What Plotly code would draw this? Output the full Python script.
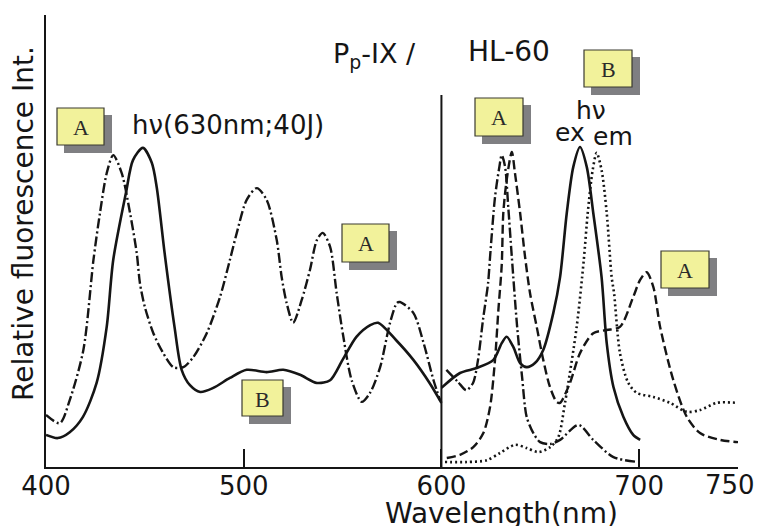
import plotly.graph_objects as go

# ---------------- data (relative fluorescence intensity, 0-100 scale) ----------------
# Excitation spectra (400-600 nm)
exc_solid_x = [400, 406, 412, 418.7, 425.6, 430.7, 434, 440.5, 444, 449, 453.5, 456, 460, 465,
               468.6, 472.8, 478, 484.6, 493, 501.5, 511.6, 520, 528.5, 537, 543.7, 550, 557,
               564, 568, 577, 585.8, 594, 600]
exc_solid_y = [7.1, 6.4, 7.7, 11.1, 18.6, 31.0, 45.8, 60.8, 67.9, 70.6, 67.3, 61.9, 47.3, 31.0,
               21.5, 18.1, 16.6, 17.5, 19.7, 21.5, 21.0, 21.5, 20.4, 18.6, 19.2, 23.7, 28.8,
               31.4, 31.9, 28.1, 23.7, 18.6, 14.2]

exc_dashdot_x = [400, 407, 412, 418.9, 424, 427.3, 430.7, 434, 438.3, 442.5, 445.9, 447.5, 450,
                 454.3, 459.3, 464.4, 469.5, 474.5, 481.3, 488, 493, 496.5, 501.5, 506.6, 511.6,
                 516.7, 519.2, 521.7, 525, 529.3, 533.5, 537, 540, 543.7, 547, 550.4, 554.6,
                 559.7, 563.9, 569, 574, 577.5, 579, 585.8, 591, 596, 599.3]
exc_dashdot_y = [11.5, 9.7, 14.8, 25.9, 45.8, 56.2, 65.0, 69.0, 65.0, 56.2, 47.3, 40.7, 35.4,
                 29.6, 25.2, 22.1, 22.1, 24.3, 29.6, 37.6, 45.8, 51.8, 59.1, 61.7, 59.1,
                 50.2, 42.0, 36.3, 31.9, 36.9, 43.6, 50.2, 51.8, 48.7, 38.5, 28.8, 19.2,
                 14.4, 16.4, 22.1, 31.9, 36.3, 36.5, 34.1, 27.4, 19.2, 14.8]

# Emission spectra (600-750 nm)
em_solid_x = [600, 609.4, 617.9, 626.3, 630.5, 633, 636.4, 639.8, 643.1, 647.3, 651.5, 656.6,
              660, 663.4, 666.7, 670.1, 673.5, 676.8, 681, 683.6, 687, 692, 697, 700.5]
em_solid_y = [17.5, 20.8, 21.9, 23.7, 27.4, 28.8, 26.5, 23.0, 22.1, 23.0, 25.9, 34.1,
              42.0, 56.2, 66.4, 70.8, 66.4, 56.2, 42.0, 27.4, 17.7, 11.1, 7.1, 6.0]

em_dashdot_x = [602.5, 608.4, 612.6, 616, 618.5, 621, 623.6, 624.6, 627.1, 629.3, 630.5, 632.2,
                633.8, 635.6, 638.3, 640.8, 643.1, 646.5, 649.9, 655, 660, 669.3, 676.8, 687,
                699.6]
em_dashdot_y = [21.5, 18.8, 17.0, 18.6, 23.7, 32.5, 40.7, 46.5, 59.7, 66.4, 69.0, 66.4,
                57.5, 46.5, 31.0, 19.9, 11.1, 7.5, 5.5, 5.1, 6.0, 9.3, 6.0, 2.2, 1.1]

em_dashed_x = [602.7, 609.4, 616.1, 621.2, 624.6, 627.1, 628.8, 630.5, 631.3, 633, 635.6, 637.2,
               639.8, 642.3, 644.8, 648.2, 651.5, 654.9, 658.3, 660, 665, 670.1, 676.8, 683.6,
               690.3, 697, 700.5, 703.8, 707.2, 710.6, 717.3, 724.1, 730.8, 740.9, 750]
em_dashed_y = [2.0, 2.7, 4.4, 7.5, 13.3, 23.7, 34.7, 44.7, 56.2, 63.5, 69.7, 65.0,
               56.2, 46.5, 38.5, 31.0, 23.7, 17.7, 14.4, 14.2, 18.6, 25.2, 29.6, 30.3,
               31.0, 37.6, 41.4, 43.1, 39.8, 31.0, 19.2, 11.1, 7.5, 6.0, 5.5]

em_dotted_x = [601.8, 612.8, 623, 629.6, 637.2, 643.1, 649, 655, 659.1, 662.5, 668.4, 672,
               674, 676.5, 678.5, 681, 683.6, 686.1, 687.3, 690.3, 694.5, 698.8, 707.2, 715.6,
               724.1, 730.8, 739.3, 749.4]
em_dotted_y = [1.1, 1.1, 1.5, 3.1, 4.9, 4.2, 3.3, 4.4, 6.6, 14.2, 31.0, 45.8,
               56.2, 65.7, 69.5, 65.7, 56.2, 42.0, 38.5, 25.2, 18.6, 16.4, 15.5, 14.2,
               12.2, 12.6, 14.2, 14.2]

tick_vals = [400, 500, 600, 700, 750]
tick_text = ["400", "500", "600", "700", "750"]

# ---------------- figure ----------------
W, H = 764, 526
PAGE_OFF = 8                      # default body margin of the html page
PL, PT, PW, PH = 46, 15, 692, 452  # plot area in page pixels
L, T = PL - PAGE_OFF, PT - PAGE_OFF
R = W - L - PW
B = H - T - PH


def px(x):
    return (x - PL) / PW


def py(y):
    return (PT + PH - y) / PH


INK = "#151515"
DASHDOT = "10px,3px,2px,3px"
DASHED = "9px,4px"
DOTTED = "2px,3px"

fig = go.Figure()


def add(x, y, dash, name, width=2.4):
    fig.add_trace(go.Scatter(x=x, y=y, mode="lines", name=name, showlegend=False,
                             line=dict(color=INK, width=width, dash=dash,
                                       shape="spline", smoothing=0.8),
                             hoverinfo="skip"))


add(exc_solid_x, exc_solid_y, "solid", "Excitation (B)", 2.6)
add(exc_dashdot_x, exc_dashdot_y, DASHDOT, "Excitation (A)")
add(em_solid_x, em_solid_y, "solid", "Emission ex", 2.6)
add(em_dashdot_x, em_dashdot_y, DASHDOT, "Emission A1")
add(em_dashed_x, em_dashed_y, DASHED, "Emission A2")
add(em_dotted_x, em_dotted_y, DOTTED, "Emission em", 2.6)

shapes = []
# divider between excitation and emission panels
shapes.append(dict(type="line", xref="x", yref="y", x0=600, x1=600, y0=0, y1=82.3,
                   line=dict(color=INK, width=2)))

# yellow labelled boxes with drop shadow (page pixel rects: x0, y0, x1, y1, label)
boxes = [
    (57, 108, 104, 145, "A"),
    (584, 50, 632, 87, "B"),
    (475, 98, 523, 136, "A"),
    (342, 224, 389, 262, "A"),
    (242, 380, 283, 416, "B"),
    (661, 251, 709, 288, "A"),
]
annotations = []
for x0, y0, x1, y1, lab in boxes:
    shapes.append(dict(type="rect", xref="paper", yref="paper",
                       x0=px(x0 + 7), x1=px(x1 + 8), y0=py(y1 + 8), y1=py(y0 + 7),
                       fillcolor="#7f7f82", line=dict(width=0), layer="above"))
    shapes.append(dict(type="rect", xref="paper", yref="paper",
                       x0=px(x0), x1=px(x1), y0=py(y1), y1=py(y0),
                       fillcolor="#f2f29b", line=dict(color="#3a3a30", width=1.2),
                       layer="above"))
    annotations.append(dict(xref="paper", yref="paper", x=px((x0 + x1) / 2),
                            y=py((y0 + y1) / 2 + 1), text=lab, showarrow=False,
                            xanchor="center", yanchor="middle",
                            font=dict(family="Liberation Serif", size=22, color="#2a2a2a")))

SANS = "DejaVu Sans"


def txt(text, x, y, size, xanchor="left", angle=0):
    annotations.append(dict(xref="paper", yref="paper", x=px(x), y=py(y), text=text,
                            showarrow=False, xanchor=xanchor, yanchor="middle",
                            textangle=angle,
                            font=dict(family=SANS, size=size, color=INK)))


txt("P<sub>p</sub>-IX /", 331, 56, 27)
txt("HL-60", 466, 52, 28)
txt("hν(630nm;40J)", 130, 125, 26)
txt("hν", 591, 110, 25, "center")
txt("ex", 570, 132, 25, "center")
txt("em", 613, 136, 25, "center")
txt("Wavelength(nm)", 501, 513, 28, "center")
txt("Relative fluorescence Int.", 23, 224, 28, "center", -90)

# the last tick label sits at the very right edge of the page: right-align it
axis_text = tick_text[:-1] + [""]
annotations.append(dict(xref="paper", yref="paper", x=px(757), y=py(485),
                        text=tick_text[-1], showarrow=False, xanchor="right",
                        yanchor="middle", font=dict(family=SANS, size=26, color=INK)))

fig.update_layout(
    width=W, height=H,
    margin=dict(l=L, r=R, t=T, b=B, pad=0, autoexpand=False),
    paper_bgcolor="white", plot_bgcolor="white",
    showlegend=False,
    shapes=shapes,
    annotations=annotations,
    xaxis=dict(range=[400, 750], showgrid=False, zeroline=False, showline=True,
               automargin=False,
               linecolor=INK, linewidth=2.4, ticks="inside", ticklen=18, tickwidth=2.2,
               tickcolor=INK, tickvals=tick_vals, ticktext=axis_text,
               ticklabelstandoff=-5,
               tickfont=dict(family=SANS, size=26, color=INK)),
    yaxis=dict(range=[0, 100], showgrid=False, zeroline=False, showline=True,
               automargin=False,
               linecolor=INK, linewidth=2.4, ticks="", showticklabels=False),
)

fig.write_html("out.html")
